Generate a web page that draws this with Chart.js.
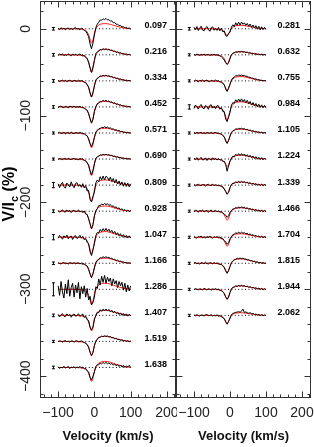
<!DOCTYPE html>
<html>
<head>
<meta charset="utf-8">
<script src="https://cdn.jsdelivr.net/npm/chart.js@4.4.0/dist/chart.umd.min.js"></script>
<style>
html, body { margin: 0; padding: 0; background: #fff; }
#wrap { position: relative; width: 314px; height: 447px; overflow: hidden; }
canvas { position: absolute; top: 0; }
</style>
</head>
<body>
<div id="wrap">
  <canvas id="leftPanel" width="177" height="447" style="left:0px"></canvas>
  <canvas id="rightPanel" width="139" height="447" style="left:175px"></canvas>
</div>
<script>
// velocity grids (km/s)
const obsV = [-100,-96,-92,-88,-84,-80,-76,-72,-68,-64,-60,-56,-52,-48,-44,-40,-36,
  -32,-28,-24,-20,-16,-12,-8,-4,0,4,
  8,12,16,20,24,28,32,36,40,44,48,52,56,60,64,68,72,76,80,84,88,92,96,100];
const modelV = [-100,-60,-40,-30,-24,-20,-16,-12,-8,-4,0,4,8,12,16,20,28,36,44,52,60,70,80,90,100];

// axis ticks
const xTickVals = [-100, 0, 100, 200];
const yTickVals = [0, -100, -200, -300, -400];

// rotational phases and vertical shifts
const phasesLeft = ['0.097','0.216','0.334','0.452','0.571','0.690','0.809','0.928','1.047','1.166','1.286','1.407','1.519','1.638'];
const offsetsLeft = [0,-30,-60,-90,-120,-150,-180,-210,-240,-270,-300,-330,-360,-390];
const errLeft = [1.5,1.5,1.5,1.5,1.2,1.2,3,1.5,3,1.5,7.5,1.5,1.2,1.5];

const phasesRight = ['0.281','0.632','0.755','0.984','1.105','1.224','1.339','1.466','1.704','1.815','1.944','2.062'];
const offsetsRight = [0,-30,-60,-90,-120,-150,-180,-210,-240,-270,-300,-330];
const errRight = [1.5,1.2,1.2,2.5,1.2,1.2,1.2,1.2,1.2,1.2,1.2,1.2];

// observed Stokes V (black), relative to each profile's zero line
const obsLeft = [
  [0.5,-1,1.2,-0.4,0.8,-1.3,0.3,1,-0.8,0.5,-1.2,0.6,1.3,-0.3,0.2,-1,0.5, -0.2,-1.8,-2.5,-5.6,-9,-17.5,-23,-16.4,-7.3,1.2, 5.4,7.5,10.3,9.8,11.5,10.6,11.9,10.2,10.6,8.8,9.1,7,7.2,5.2,5.4,3.6,3.9,2.1,2.6,0.8,1.6,0.2,0.9,-0.4],
  [-0.6,0.9,-0.2,1.1,-1,0.4,-0.7,1.2,0.1,-1.1,0.7,-0.4,0.9,-0.8,0.3,1,-0.5, -1.2,-0.6,-3.1,-4,-8.6,-15,-20.3,-14.2,-6.5,1.3, 3.5,4.2,6.3,5.5,7.1,6,7,5.7,6.6,5,5.6,3.9,4.5,2.8,3.5,1.9,2.6,1,1.7,0.3,1.1,-0.2,0.7,-0.3],
  [0.4,-0.7,0.2,0.9,-0.5,0.6,-0.9,0.3,0.7,-0.4,-0.8,0.5,0.2,-0.6,0.8,-0.3,0.4, -0.2,-1.5,-2,-4.6,-7,-14,-18.6,-13.2,-5.9,1, 3.1,3.9,5.8,5.2,6.4,5.6,6.6,5.3,6,4.6,5.1,3.6,4.1,2.7,3.1,1.7,2.3,0.9,1.6,0.3,0.9,-0.1,0.6,-0.3],
  [-0.9,0.5,1,-0.3,-0.8,0.7,0.2,-1.1,0.9,0.3,-0.5,1.2,-0.7,0.4,-0.2,0.8,-0.6, -0.3,-1.5,-2.9,-3.8,-7.8,-13.4,-18.7,-14.1,-5.2,0.4, 3.8,4.5,6.6,6,7.8,6.5,7.6,6.2,7,5.3,6,4.2,4.9,3.1,3.7,2,2.6,1.1,1.8,0.4,1.2,-0.1,0.7,-0.4],
  [0.3,0.8,-0.5,-0.2,0.6,-0.9,0.4,0.1,-0.6,0.9,-0.3,-0.7,0.5,0.2,-0.4,0.7,-0.1, -0.9,-0.6,-2.5,-3.1,-6.8,-12.2,-15.8,-11.3,-5.2,1, 3.2,4.9,5.3,6.6,6.1,7.2,6.2,6.8,5.5,5.9,4.5,4.8,3.5,3.8,2.4,2.9,1.5,2,0.9,1.2,0.2,0.8,-0.1,0.3],
  [-0.4,0.6,0.1,-0.7,0.5,0.3,-0.5,0.8,-0.2,-0.6,0.4,0.7,-0.3,0.1,-0.8,0.5,0.2, -0.1,-1.4,-2,-4.4,-6.8,-13.6,-18.2,-12.9,-5.7,1, 2.6,3.2,4.8,4.3,5.4,4.6,5.5,4.5,5,3.9,4.3,3,3.4,2.2,2.6,1.5,1.9,0.8,1.3,0.3,0.9,-0.1,0.5,-0.2],
  [1.5,-2.8,0.9,3.1,-1.7,-3.5,2.4,0.3,-2.2,3.8,-0.6,-3,1.9,2.7,-1.4,0.6,-2.5, 1.6,-3.2,-0.5,-6.8,-6.1,-16.5,-19.4,-13,-8.2,2.7, 5.9,3.8,9.7,6.1,10.4,5.9,10.2,8.9,5.4,9.3,4.1,7.6,2.6,6.5,1.2,4.8,0.1,3.7,-1.3,2.9,-1.6,2.4,-2,1.5],
  [0.7,-1.3,0.2,1.5,-0.6,-1.1,1.2,-0.3,0.9,-1.6,0.4,1.1,-0.8,-0.2,1.4,-0.9,0.3, -1.4,0.3,-3.3,-3.8,-8.9,-14.3,-20.5,-15.5,-5.4,0.3, 3,6.5,6.2,8.3,7.2,8.9,7.5,8.6,6.6,7.6,5.4,6.3,4,5.1,2.7,3.9,1.6,2.8,0.6,1.9,-0.2,1.3,-0.6,0.8],
  [-1.2,2.1,0.4,-2.3,1.6,-0.7,2.5,-1.9,0.6,1.3,-2.6,0.9,1.8,-1.5,-0.2,2.2,-1.1, 0.9,-2.8,-1.5,-6,-7.6,-16.8,-21.2,-14.4,-7.5,2, 5.4,4.9,8.9,6.5,9.9,7.1,10.2,6.9,9.3,5.8,7.9,4.4,6.7,3,5.1,1.8,4,0.6,2.9,-0.2,2.1,-0.8,1.6,-1],
  [0.6,-0.3,-0.8,0.4,0.9,-0.5,0.1,-0.9,0.7,0.3,-0.4,0.8,-0.6,0.2,0.5,-0.7,0.3, -0.9,-0.6,-2.6,-3.2,-7,-12.5,-16.6,-11.8,-5.4,1, 3.5,4.6,6.5,6.1,7.5,6.6,7.5,6.4,6.9,5.5,5.8,4.3,4.6,3.2,3.5,2.1,2.5,1.3,1.6,0.5,1,0,0.5,-0.2],
  [4,-7,9,-3,-10,6,-5,11,-8,2,7,-9,5,-4,8,-11,3, -5,4,-9,1,-12,-8,-18,-15,-9,3, 1,12,5,15,8,16,7,14,9,13,4,12,6,10,2,9,4,8,-1,7,-3,5,-2,4],
  [1.1,-1.8,0.6,2,-0.9,-1.5,1.7,-0.4,1.2,-2.1,0.5,1.6,-1,-0.3,1.9,-1.2,0.4, 1.5,-2.4,-0.9,-5,-6,-13.8,-16.7,-13.4,-4,-0.5, 3.7,3.1,6.5,4.6,7.2,5,7.3,4.9,6.9,4.1,5.8,3,4.8,2.1,3.7,1,2.9,0.2,2.1,-0.5,1.7,-0.9,1.2,-0.6],
  [-0.3,0.7,0.2,-0.8,0.5,0.9,-0.4,0.1,-0.7,0.6,0.3,-0.9,0.4,0.8,-0.5,-0.1,0.6, -0.2,-1.3,-1.8,-3.9,-6.3,-12.5,-16.3,-12.6,-4.7,0.3, 2.4,4.7,4.8,6.1,5.5,6.4,5.7,6.3,5.1,5.5,4.2,4.5,3.2,3.5,2.2,2.6,1.4,1.8,0.7,1.1,0.1,0.7,-0.3,0.4],
  [0.9,-1.1,0.3,-0.6,1.4,-0.8,0.2,1.2,-1.3,0.5,-0.2,1,-0.9,0.7,-0.4,1.3,-0.5, 0.6,-1.5,-1.2,-3.9,-5.2,-11.3,-14.6,-10.1,-4.9,1.1, 3.1,3,5.2,4.1,5.7,4.5,5.8,4.2,5.3,3.6,4.7,2.6,4.2,1.9,3.4,1.1,2.8,0.6,2.3,0.1,1.8,0.6,2.5,-0.2]
];
const obsRight = [
  [1.8,-1.2,2.5,-2,0.6,3,-1.5,-2.4,1.1,2.6,-0.8,-2.9,1.4,2.2,-1.7,0.4,-1.9, 1.5,-2.3,0.8,-3.6,-2.4,-7.9,-8.6,-5.2,-3.9,2, 4.6,2.6,6.9,4.1,7.6,4.3,7.8,5.2,6.9,3.8,6.2,2.9,5.5,1.6,4.4,0.8,3.6,-0.5,2.9,-1.2,2.3,-0.9,1.6,-0.6],
  [0.5,-0.6,0.8,0.2,-0.7,0.4,-0.3,0.9,-0.5,0.1,0.6,-0.8,0.3,-0.2,0.7,-0.4,0.2, -0.5,-1.2,-2.2,-3.8,-6,-9,-11,-9,-4.5,0.2, 1.9,2.3,3.4,3,3.8,3.2,3.9,3.3,3.6,2.7,3.1,2.1,2.4,1.5,1.9,0.9,1.3,0.4,0.9,0.1,0.6,-0.2,0.4,-0.3],
  [-0.7,0.9,0.3,-1.1,0.6,-0.2,1.2,-0.9,0.4,0.8,-0.5,-1,0.7,0.2,-0.6,1,-0.3, 0.1,-1.3,-1.1,-3.2,-4.3,-9.4,-12.2,-8.3,-4.1,1, 3.3,4.5,6,5.8,6.8,6.3,6.7,6,6.2,5.3,5.3,4.2,4.2,3.1,3.2,2.2,2.3,1.3,1.4,0.6,0.8,0.1,0.4,-0.1],
  [-1.8,2.2,0.5,-2.5,1.3,2.8,-1,-2.2,1.7,0.3,-2.7,1.9,2.4,-1.3,0.8,-2,1.5, 1.2,-2.6,-0.8,-5.2,-5.5,-14,-16.8,-11.4,-6.4,2.1, 5.1,4.2,8.3,5.6,9.1,6.2,9.3,5.9,8.5,4.8,7.6,3.7,6.3,2.2,5.1,1.1,4,0.1,3.1,-0.6,2.4,-1,1.8,-1],
  [0.4,-0.5,0.7,-0.3,0.2,0.8,-0.6,0.3,-0.8,0.5,0.1,-0.4,0.9,-0.7,0.2,0.6,-0.2, -0.2,-1,-1.3,-3,-4.5,-9.2,-12.1,-8.6,-3.8,0.7, 2.6,3.2,4.8,4.3,5.4,4.6,5.5,4.5,5,3.9,4.3,3,3.4,2.2,2.6,1.5,1.9,0.8,1.3,0.3,0.9,-0.1,0.5,-0.2],
  [1.2,-0.8,1.6,-1.4,0.3,1.9,-1.1,-0.5,1.4,-1.7,0.8,0.2,-1.3,1.5,-0.6,0.9,-1.2, 0.6,-1.2,-0.5,-2.8,-2.5,-6,-14,-8,-2.5,1.2, 3.4,2.5,5.6,3.8,6.2,4,6.3,4.1,5.8,3.2,5,2.3,4.4,1.6,3.5,0.6,2.8,-0.2,2.1,-0.6,1.6,-0.8,1.2,-0.5],
  [0.6,-0.9,0.2,1,-0.4,-0.7,0.8,0.3,-1,0.5,0.9,-0.6,-0.2,1.1,-0.8,0.4,-0.3, -0.7,-0.2,-1.8,-2.1,-4.6,-7.4,-10.6,-8.3,-3,0.9, 2.2,2,3.9,2.6,4.3,2.9,4.4,3,4,2.4,3.5,1.7,2.9,1,2.3,0.4,1.8,-0.2,1.3,-0.5,1,-0.6,0.7,-0.4],
  [-0.8,1.1,0.4,-1.3,0.9,-0.2,1.4,-1,0.3,0.8,-1.4,0.6,1.2,-0.7,-0.1,1,-0.9, 0.5,-1.2,-0.4,-2.3,-3.1,-4.8,-7.2,-5.4,-1.6,0.9, 2.5,2.4,4.4,3,4.9,3.3,5,3.4,4.6,2.8,4,2,3.3,1.3,2.7,0.6,2,0,1.5,-0.4,1.2,-0.6,0.8,-0.5],
  [1,-0.6,-1.2,0.7,0.2,1.3,-0.9,0.5,-1.1,0.9,-0.3,1.4,-0.5,-1,0.6,-0.2,0.8, -0.6,0.4,-1.9,-1.6,-3.7,-5.5,-8.2,-6.3,-1.9,0.6, 3,3.4,5.2,4.1,6,4.4,5.8,4.6,5.2,3.8,4.7,2.7,4,2,3,1.2,2.2,0.5,1.6,0,1.1,-0.3,0.6,-0.3],
  [0.3,0.9,-0.7,0.2,-1,0.6,0.4,-0.5,1.1,-0.3,-0.8,0.7,0.1,-0.6,0.9,-0.4,0.5, -0.6,-1.2,-1.5,-3.1,-5,-8.7,-11.6,-8.3,-3.8,0.8, 2.8,4.4,4.6,5.8,5,6.1,5.2,5.9,4.8,5,3.9,4.1,2.9,3.2,2,2.3,1.1,1.6,0.4,1,0,0.6,-0.3,0.3],
  [-0.5,0.7,0.1,-0.9,0.8,-0.2,-0.6,1,0.3,-0.8,0.5,0.2,-1,0.6,-0.3,0.9,-0.4, 0.2,-1.1,-1.3,-3.2,-4.7,-8.8,-11.4,-8.7,-3.6,0.3, 2.4,2.6,4,3.3,4.4,3.6,4.5,3.5,4.2,3,3.7,2.4,3,1.7,2.4,1.1,1.8,0.4,1.3,0,0.9,-0.3,0.6,-0.4],
  [0.4,-0.6,0.8,-0.2,-0.9,0.5,0.1,-0.7,0.6,0.9,-0.4,-0.1,0.7,-0.8,0.3,-0.5,0.6, -0.8,-0.2,-1.5,-2.5,-3.8,-7.6,-10.2,-7.1,-3.4,0.9, 2.2,2.9,3.5,3.8,4.3,3.6,4.8,7.2,3.2,4.1,3,2.4,3.1,1.6,2.2,1,1.6,0.3,1.1,-0.2,0.8,-0.4,0.5,-0.3]
];

// model fits (red), on modelV
const modLeft = [
  [0,0,-0.3,-1,-2,-3.6,-6.9,-12.2,-16.5,-12.9,-5,0.3,2.7,4.3,5.2,5.6,6,5.8,5.1,4.1,3.1,2,1.1,0.5,0.1],
  [0,0,-0.4,-1.2,-2.4,-4.4,-8.4,-14.8,-20,-15.6,-6,0.3,2.9,4.7,5.6,6,6.5,6.3,5.5,4.4,3.4,2.2,1.2,0.5,0.1],
  [0,0,-0.4,-1.1,-2.2,-4.1,-7.8,-13.7,-18.5,-14.4,-5.6,0.3,2.7,4.3,5.2,5.6,6,5.8,5.1,4.1,3.1,2,1.1,0.5,0.1],
  [0,0,-0.4,-1.1,-2.2,-4,-7.6,-13.3,-18,-14,-5.4,0.3,2.9,4.7,5.6,6,6.5,6.3,5.5,4.4,3.4,2.2,1.2,0.5,0.1],
  [0,0,-0.3,-1,-2,-3.7,-7.1,-12.6,-17,-13.3,-5.1,0.3,2.5,4,4.7,5.1,5.5,5.3,4.7,3.7,2.9,1.9,1,0.4,0.1],
  [0,0,-0.4,-1.1,-2.3,-4.2,-8,-14.1,-19,-14.8,-5.7,0.3,2.3,3.6,4.3,4.7,5,4.9,4.3,3.4,2.6,1.7,0.9,0.4,0.1],
  [0,0,-0.4,-1.1,-2.3,-4.2,-8,-14.1,-19,-14.8,-5.7,0.3,2.7,4.3,5.2,5.6,6,5.8,5.1,4.1,3.1,2,1.1,0.5,0.1],
  [0,0,-0.4,-1.2,-2.4,-4.4,-8.4,-14.8,-20,-15.6,-6,0.3,2.7,4.3,5.2,5.6,6,5.8,5.1,4.1,3.1,2,1.1,0.5,0.1],
  [0,0,-0.4,-1.1,-2.3,-4.2,-8,-14.1,-19,-14.8,-5.7,0.3,2.9,4.7,5.6,6,6.5,6.3,5.5,4.4,3.4,2.2,1.2,0.5,0.1],
  [0,0,-0.3,-1,-1.9,-3.5,-6.7,-11.8,-16,-12.5,-4.8,0.3,2.7,4.3,5.2,5.6,6,5.8,5.1,4.1,3.1,2,1.1,0.5,0.1],
  [0,0,-0.3,-1,-2,-3.7,-7.1,-12.6,-17,-13.3,-5.1,0.4,3.2,5,6,6.5,7,6.8,6,4.8,3.6,2.4,1.3,0.6,0.1],
  [0,0,-0.4,-1.1,-2.2,-4,-7.6,-13.3,-18,-14,-5.4,0.3,2.7,4.3,5.2,5.6,6,5.8,5.1,4.1,3.1,2,1.1,0.5,0.1],
  [0,0,-0.3,-1,-2,-3.6,-6.9,-12.2,-16.5,-12.9,-5,0.3,2.7,4.3,5.2,5.6,6,5.8,5.1,4.1,3.1,2,1.1,0.5,0.1],
  [0,0,-0.3,-1,-1.9,-3.5,-6.7,-11.8,-16,-12.5,-4.8,0.4,3.2,5,6,6.5,7,6.8,6,4.8,3.6,2.4,1.3,0.6,0.1]
];
const modRight = [
  [0,0,-0.2,-0.5,-1,-1.8,-3.4,-5.9,-8,-6.2,-2.4,0.2,1.8,2.9,3.4,3.7,4,3.9,3.4,2.7,2.1,1.4,0.7,0.3,0.1],
  [0,0,-0.2,-0.7,-1.3,-2.4,-4.6,-8.1,-11,-8.6,-3.3,0.2,1.6,2.5,3,3.3,3.5,3.4,3,2.4,1.8,1.2,0.6,0.3,0.1],
  [0,0,-0.2,-0.7,-1.3,-2.4,-4.6,-8.1,-11,-8.6,-3.3,0.3,2.3,3.6,4.3,4.7,5,4.9,4.3,3.4,2.6,1.7,0.9,0.4,0.1],
  [0,0,-0.3,-0.9,-1.8,-3.3,-6.3,-11.1,-15,-11.7,-4.5,0.3,2.7,4.3,5.2,5.6,6,5.8,5.1,4.1,3.1,2,1.1,0.5,0.1],
  [0,0,-0.2,-0.7,-1.3,-2.4,-4.6,-8.1,-11,-8.6,-3.3,0.2,2,3.2,3.9,4.2,4.5,4.4,3.8,3.1,2.3,1.5,0.8,0.4,0.1],
  [0,0,-0.2,-0.5,-1,-1.9,-3.6,-6.3,-8.5,-6.6,-2.6,0.2,2,3.2,3.9,4.2,4.5,4.4,3.8,3.1,2.3,1.5,0.8,0.4,0.1],
  [0,0,-0.2,-0.6,-1.2,-2.2,-4.2,-7.4,-10,-7.8,-3,0.2,1.6,2.5,3,3.3,3.5,3.4,3,2.4,1.8,1.2,0.6,0.3,0.1],
  [0,0,-0.2,-0.6,-1.3,-2.3,-4.4,-7.8,-10.5,-8.2,-3.2,0.2,1.8,2.9,3.4,3.7,4,3.9,3.4,2.7,2.1,1.4,0.7,0.3,0.1],
  [0,0,-0.2,-0.6,-1.3,-2.3,-4.4,-7.8,-10.5,-8.2,-3.2,0.2,1.8,2.9,3.4,3.7,4,3.9,3.4,2.7,2.1,1.4,0.7,0.3,0.1],
  [0,0,-0.2,-0.7,-1.3,-2.4,-4.6,-8.1,-11,-8.6,-3.3,0.3,2.3,3.6,4.3,4.7,5,4.9,4.3,3.4,2.6,1.7,0.9,0.4,0.1],
  [0,0,-0.2,-0.7,-1.4,-2.5,-4.8,-8.5,-11.5,-9,-3.5,0.2,1.8,2.9,3.4,3.7,4,3.9,3.4,2.7,2.1,1.4,0.7,0.3,0.1],
  [0,0,-0.2,-0.5,-1.1,-2,-3.8,-6.7,-9,-7,-2.7,0.2,1.4,2.2,2.6,2.8,3,2.9,2.6,2,1.6,1,0.5,0.2,0.1]
];

const errV = -113;       // velocity where the error bar sits
const zeroFrom = -100, zeroTo = 100;
const FONT = '"Liberation Sans", Arial, Helvetica, sans-serif';
Chart.defaults.font.family = FONT;

function fmt(v) {
  return v < 0 ? '\u2212' + Math.abs(v) : String(v);
}

function buildDatasets(obs, mod, offsets, errs) {
  const ds = [];
  offsets.forEach((off, k) => {
    ds.push({
      data: obsV.map((v, i) => ({ x: v, y: obs[k][i] + off })),
      borderColor: '#000', borderWidth: 1, order: 0
    });
    ds.push({
      data: modelV.map((v, i) => ({ x: v, y: mod[k][i] + off })),
      borderColor: '#ff1a1a', borderWidth: 1, order: 1,
      cubicInterpolationMode: 'monotone'
    });
    // dotted zero line
    ds.push({
      data: [{ x: zeroFrom, y: off }, { x: zeroTo, y: off }],
      borderColor: '#000', borderWidth: 1, borderDash: [1, 2.4], order: 2
    });
    // error bar
    ds.push({
      data: [{ x: errV, y: off - errs[k] }, { x: errV, y: off + errs[k] }],
      borderColor: '#000', borderWidth: 1, order: 2,
      pointStyle: 'line', pointRadius: 1.5, pointBorderWidth: 1, pointBorderColor: '#000'
    });
  });
  return ds;
}

// frame, inward ticks, y tick labels, phase labels and y title
const framePlugin = {
  id: 'frame',
  afterDraw(chart, args, opts) {
    const { ctx, scales: { x, y } } = chart;
    const L = Math.round(x.left) + 0.5, R = Math.round(x.right) - 0.5;
    const T = Math.round(y.top) + 0.5, B = Math.round(y.bottom) + 0.5;
    ctx.save();
    ctx.strokeStyle = '#333';
    ctx.lineWidth = 1;
    ctx.strokeRect(L, T, R - L, B - T);
    ctx.beginPath();
    for (let v = -420; v <= 20; v += 20) {
      const py = Math.round(y.getPixelForValue(v)) + 0.5;
      const len = v % 100 === 0 ? 6 : 3;
      ctx.moveTo(L, py); ctx.lineTo(L + len, py);
      ctx.moveTo(R, py); ctx.lineTo(R - len, py);
    }
    for (let v = -140; v <= 220; v += 20) {
      const px = Math.round(x.getPixelForValue(v)) + 0.5;
      const len = v % 100 === 0 ? 6 : 3;
      ctx.moveTo(px, B); ctx.lineTo(px, B - len);
      ctx.moveTo(px, T); ctx.lineTo(px, T + len);
    }
    ctx.stroke();

    ctx.fillStyle = '#000';
    ctx.font = 'bold 9px ' + FONT;
    ctx.textAlign = 'center';
    ctx.textBaseline = 'middle';
    opts.phases.forEach((p, k) => {
      ctx.fillText(p, x.getPixelForValue(opts.labelV), y.getPixelForValue(opts.offsets[k] + 3.5));
    });

    if (opts.yLabels) {
      // rotated tick labels of the vertical axis
      ctx.font = '14px ' + FONT;
      ctx.fillStyle = '#222';
      yTickVals.forEach(v => {
        ctx.save();
        ctx.translate(x.left - 14, y.getPixelForValue(v));
        ctx.rotate(-Math.PI / 2);
        ctx.fillText(fmt(v), 0, 0);
        ctx.restore();
      });
      // axis title V/I_c (%)
      ctx.fillStyle = '#000';
      ctx.translate(10, 194);
      ctx.rotate(-Math.PI / 2);
      const f1 = 'bold 16px ' + FONT, f2 = 'bold 11px ' + FONT;
      ctx.font = f1; const w1 = ctx.measureText('V/I').width;
      const w3 = ctx.measureText(' (%)').width;
      ctx.font = f2; const w2 = ctx.measureText('c').width;
      let sx = -(w1 + w2 + w3) / 2;
      ctx.textAlign = 'left';
      ctx.font = f1; ctx.fillText('V/I', sx, 0); sx += w1;
      ctx.font = f2; ctx.fillText('c', sx, 5); sx += w2;
      ctx.font = f1; ctx.fillText(' (%)', sx, 0);
    }
    ctx.restore();
  }
};

function makeOptions(isLeft, phases, offsets, labelV) {
  return {
    responsive: false,
    animation: false,
    events: [],
    layout: {
      autoPadding: false,
      padding: { top: 1, right: isLeft ? 1 : 3, left: isLeft ? 40 : 1, bottom: 0 }
    },
    elements: { point: { radius: 0 }, line: { tension: 0 } },
    plugins: {
      legend: { display: false },
      tooltip: { enabled: false },
      frame: { phases: phases, offsets: offsets, labelV: labelV, yLabels: isLeft }
    },
    scales: {
      x: {
        type: 'linear', min: -150, max: 225, offset: false,
        grid: { display: false, drawTicks: false }, border: { display: false },
        afterBuildTicks: s => { s.ticks = xTickVals.map(v => ({ value: v })); },
        afterFit: s => { s.height = 50; s.paddingLeft = 0; s.paddingRight = 0; },
        ticks: {
          padding: 8, autoSkip: false, maxRotation: 0, minRotation: 0,
          font: { size: 14 }, color: '#222', callback: v => fmt(v)
        },
        title: {
          display: true, text: 'Velocity (km/s)', color: '#111',
          font: { size: 13, weight: 'bold' }, padding: { top: 0, bottom: 3 }
        }
      },
      y: {
        type: 'linear', min: -424, max: 32, display: false
      }
    }
  };
}

new Chart(document.getElementById('leftPanel'), {
  type: 'line',
  data: { datasets: buildDatasets(obsLeft, modLeft, offsetsLeft, errLeft) },
  options: makeOptions(true, phasesLeft, offsetsLeft, 169),
  plugins: [framePlugin]
});

new Chart(document.getElementById('rightPanel'), {
  type: 'line',
  data: { datasets: buildDatasets(obsRight, modRight, offsetsRight, errRight) },
  options: makeOptions(false, phasesRight, offsetsRight, 163),
  plugins: [framePlugin]
});
</script>
</body>
</html>
